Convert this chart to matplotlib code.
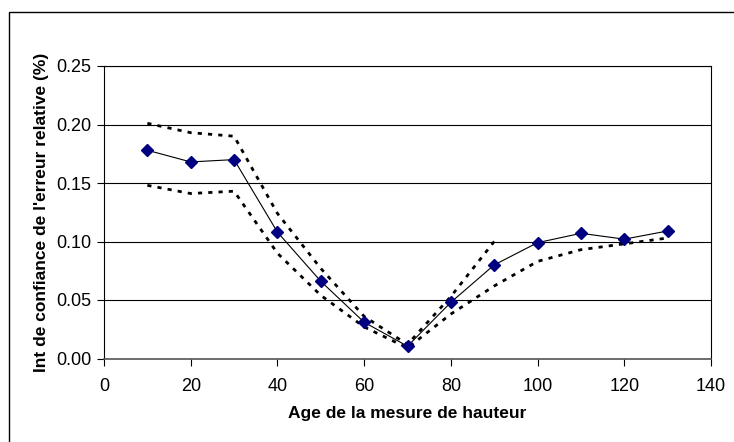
import numpy as np
import matplotlib.pyplot as plt
from matplotlib.patches import Rectangle

plt.rcParams['font.family'] = ['Liberation Sans', 'DejaVu Sans']

# donnees
age = [10, 20, 30, 40, 50, 60, 70, 80, 90, 100, 110, 120, 130]
erreur = [0.178, 0.168, 0.170, 0.108, 0.066, 0.031, 0.0105, 0.048, 0.080,
          0.099, 0.107, 0.102, 0.109]

age_sup = [10, 20, 30, 40, 50, 60, 70, 80, 90]
borne_sup = [0.201, 0.193, 0.190, 0.124, 0.077, 0.036, 0.012, 0.053, 0.100]

age_inf = [10, 20, 30, 40, 50, 60, 70, 80, 90, 100, 110, 120, 130]
borne_inf = [0.148, 0.141, 0.143, 0.090, 0.054, 0.027, 0.009, 0.038, 0.062,
             0.083, 0.093, 0.098, 0.103]

fig = plt.figure(figsize=(7.34, 4.42), dpi=100)
ax = fig.add_axes([104 / 734, 1 - 358.5 / 442, 607 / 734, 292.5 / 442])

# cadre exterieur (seuls les bords haut et gauche sont visibles)
fig.patches.append(Rectangle((9 / 734, -0.05), 1.0, 1 - 12 / 442 + 0.05,
                             transform=fig.transFigure, fill=False,
                             edgecolor='black', linewidth=1))

ax.yaxis.grid(True, color='black', linewidth=0.8)
ax.set_axisbelow(True)

ax.plot(age_sup, borne_sup, color='black', linewidth=2, linestyle=(0, (1.5, 2.2)))
ax.plot(age_inf, borne_inf, color='black', linewidth=2, linestyle=(0, (1.5, 2.2)))
ax.plot(age, erreur, color='black', linewidth=0.8, marker='D', markersize=6.5,
        markerfacecolor='#000080', markeredgecolor='#000080')

ax.set_xlim(0, 140)
ax.set_ylim(0, 0.25)
ax.set_xticks(np.arange(0, 141, 20))
ax.set_yticks(np.arange(0, 0.251, 0.05))
ax.set_yticklabels(['%.2f' % v for v in np.arange(0, 0.251, 0.05)])
ax.tick_params(direction='out', length=5, width=0.8, labelsize=13, colors='black')
ax.tick_params(axis='x', pad=9)
ax.tick_params(axis='y', pad=4)

for s in ax.spines.values():
    s.set_linewidth(0.8)
    s.set_color('black')
ax.spines['bottom'].set_color('#555555')
ax.spines['bottom'].set_linewidth(1.2)

ax.set_xlabel('Age de la mesure de hauteur', fontsize=12.5, fontweight='bold', labelpad=8)
ax.set_ylabel("Int de confiance de l'erreur relative (%)", fontsize=12.5,
              fontweight='bold', labelpad=5)

fig.savefig('out.png', dpi=100)
